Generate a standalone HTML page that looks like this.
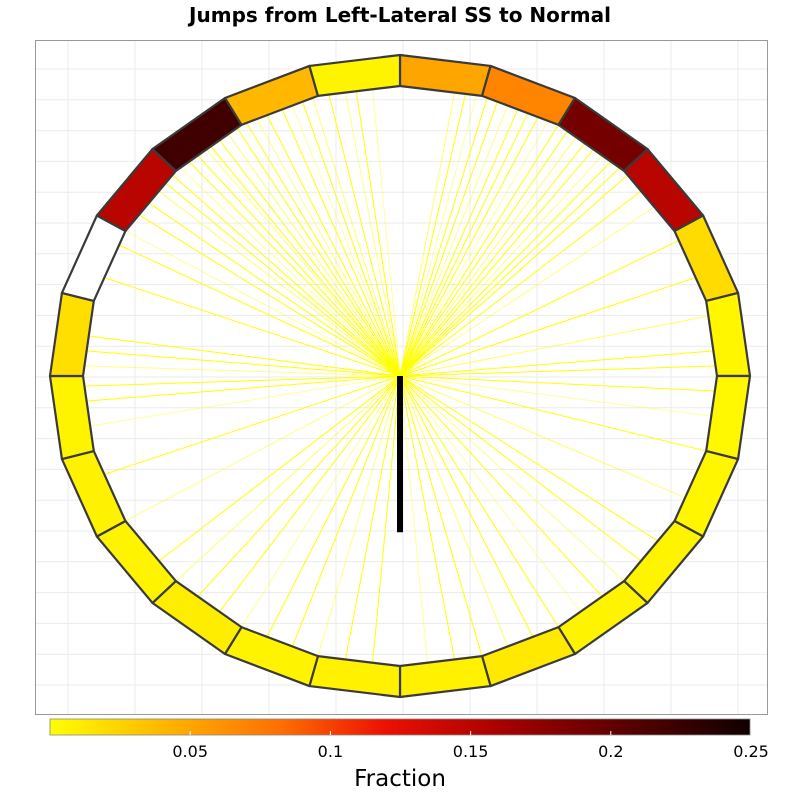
<!DOCTYPE html>
<html><head><meta charset="utf-8"><style>
body{margin:0;background:#fff;font-family:"DejaVu Sans","Liberation Sans",sans-serif}
</style></head><body>
<svg id="c" width="800" height="800" xmlns="http://www.w3.org/2000/svg">
<defs><linearGradient id="g" x1="0" x2="1" y1="0" y2="0">
<stop offset="0" stop-color="#ffff00"/><stop offset="0.2" stop-color="#ffa500"/><stop offset="0.33" stop-color="#ff6e00"/><stop offset="0.48" stop-color="#ec1000"/><stop offset="0.66" stop-color="#a00000"/><stop offset="0.82" stop-color="#5a0000"/><stop offset="1" stop-color="#100000"/></linearGradient></defs>
<text x="400" y="22" text-anchor="middle" font-size="20" font-weight="bold">Jumps from Left-Lateral SS to Normal</text>
<rect x="35.5" y="40.5" width="732" height="674" fill="#fff" stroke="#999"/>
<g id="grid"></g>
<g id="lines"></g>
<g id="ring"></g>
<line id="mean" stroke="#000" stroke-width="6"/>
<rect x="50" y="719" width="700" height="16" fill="url(#g)" stroke="#888" stroke-width="0.8"/>
<g id="cbt"></g>
<text x="400" y="786" text-anchor="middle" font-size="23">Fraction</text>
</svg>
<script>
// sector fractions, clockwise from top (sector i spans 90-15i to 75-15i deg)
const sectorValues=[0.05,0.07,0.19,0.15,0.02,0.005,0.004,0.005,0.006,0.006,0.012,0.008,0.008,0.006,0.01,0.006,0.007,0.006,0.018,null,0.15,0.22,0.04,0.006];
const tickValues=[0.05,0.1,0.15,0.2,0.25];
const tickLabels=["0.05","0.1","0.15","0.2","0.25"];
const jumpAngles=[95,98,100,103,106,108,110,112,115,117,119,121,123,125,127,128,130,132,134,136,138,140,143,146,150,153,160,172,175,178,182,185,80,78,76,74,72,70,68,66,64,62,60,58,56,54,52,50,48,46,44,40,36,28,20,12,5,2,-3,-8,-15,-25,-35,-40,-45,-50,-55,-60,-65,-70,-75,-80,-85,-95,-100,-105,-110,-115,-120,-125,-130,-135,-140,-150,-160,-170];
const jumpOpacity=[0.4,1,0.5,1,0.6,1,0.4,1,1,0.5,1,1,0.6,1,1,0.5,1,1,0.4,1,1,0.6,1,1,0.4,1,1,1,1,0.5,1,1,0.6,1,0.4,1,1,0.5,1,1,1,0.4,1,1,0.6,1,1,0.5,1,1,1,1,0.5,1,1,0.6,1,1,1,0.4,1,0.6,1,1,0.5,1,0.4,1,1,0.6,1,1,0.4,1,1,0.5,1,1,0.4,1,1,0.6,1,0.5,1,0.4];
const meanLength=0.49; const meanAngle=-90;
const cx=400,cy=376,RXo=350,RYo=321,RXi=317,RYi=290;
const NS="http://www.w3.org/2000/svg";
function mk(t,a,p){const e=document.createElementNS(NS,t);for(const k in a)e.setAttribute(k,a[k]);p.appendChild(e);return e;}
function pt(a,rx,ry){const r=a*Math.PI/180;return [cx+rx*Math.cos(r),cy-ry*Math.sin(r)];}
const stops=[[0,[255,255,0]],[0.05,[255,165,0]],[0.083,[255,110,0]],[0.12,[236,16,0]],[0.165,[160,0,0]],[0.205,[90,0,0]],[0.25,[16,0,0]]];
function col(v){if(v===null)return "#fff";for(let i=1;i<stops.length;i++){if(v<=stops[i][0]){const a=stops[i-1],b=stops[i],t=(v-a[0])/(b[0]-a[0]);return "rgb("+a[1].map((c,j)=>Math.round(c+(b[1][j]-c)*t)).join(",")+")";}}return "#100000";}
const xs=v=>50+v*2804;
const grid=document.getElementById('grid');
for(let x=68;x<767;x+=67){const l=mk('line',{x1:x,x2:x,y1:41,y2:714,stroke:'#ebebeb'},grid);

}
for(let y=69;y<714;y+=30.8){const l=mk('line',{x1:36,x2:767,y1:y,y2:y,stroke:'#ebebeb'},grid);

}
const lg=document.getElementById('lines');
jumpAngles.forEach((a,i)=>{const p=pt(a,RXi,RYi);const l=mk('line',{x1:cx,y1:cy,x2:p[0],y2:p[1],stroke:'#ffff00','stroke-width':1,'stroke-opacity':jumpOpacity[i]},lg);

});
const rg=document.getElementById('ring');
sectorValues.forEach((v,i)=>{const a0=90-15*i,a1=a0-15;const p=[pt(a0,RXo,RYo),pt(a1,RXo,RYo),pt(a1,RXi,RYi),pt(a0,RXi,RYi)];
const s=mk('polygon',{points:p.map(q=>q.join(',')).join(' '),fill:col(v),stroke:'#3a3a3a','stroke-width':2.2,'stroke-linejoin':'round'},rg);

});
const me=pt(meanAngle,RXi*meanLength,RYi*meanLength*1.1);
const m=document.getElementById('mean');m.setAttribute('x1',cx);m.setAttribute('y1',cy);m.setAttribute('x2',me[0]);m.setAttribute('y2',me[1]);
const cb=document.getElementById('cbt');
tickValues.forEach((v,i)=>{const x=xs(v);const l=mk('line',{x1:x,x2:x,y1:731,y2:735,stroke:'#fff'},cb);


const t=mk('text',{x:x,y:757,'text-anchor':'middle','font-size':16},cb);t.textContent=tickLabels[i];

});
</script>
</body></html>
